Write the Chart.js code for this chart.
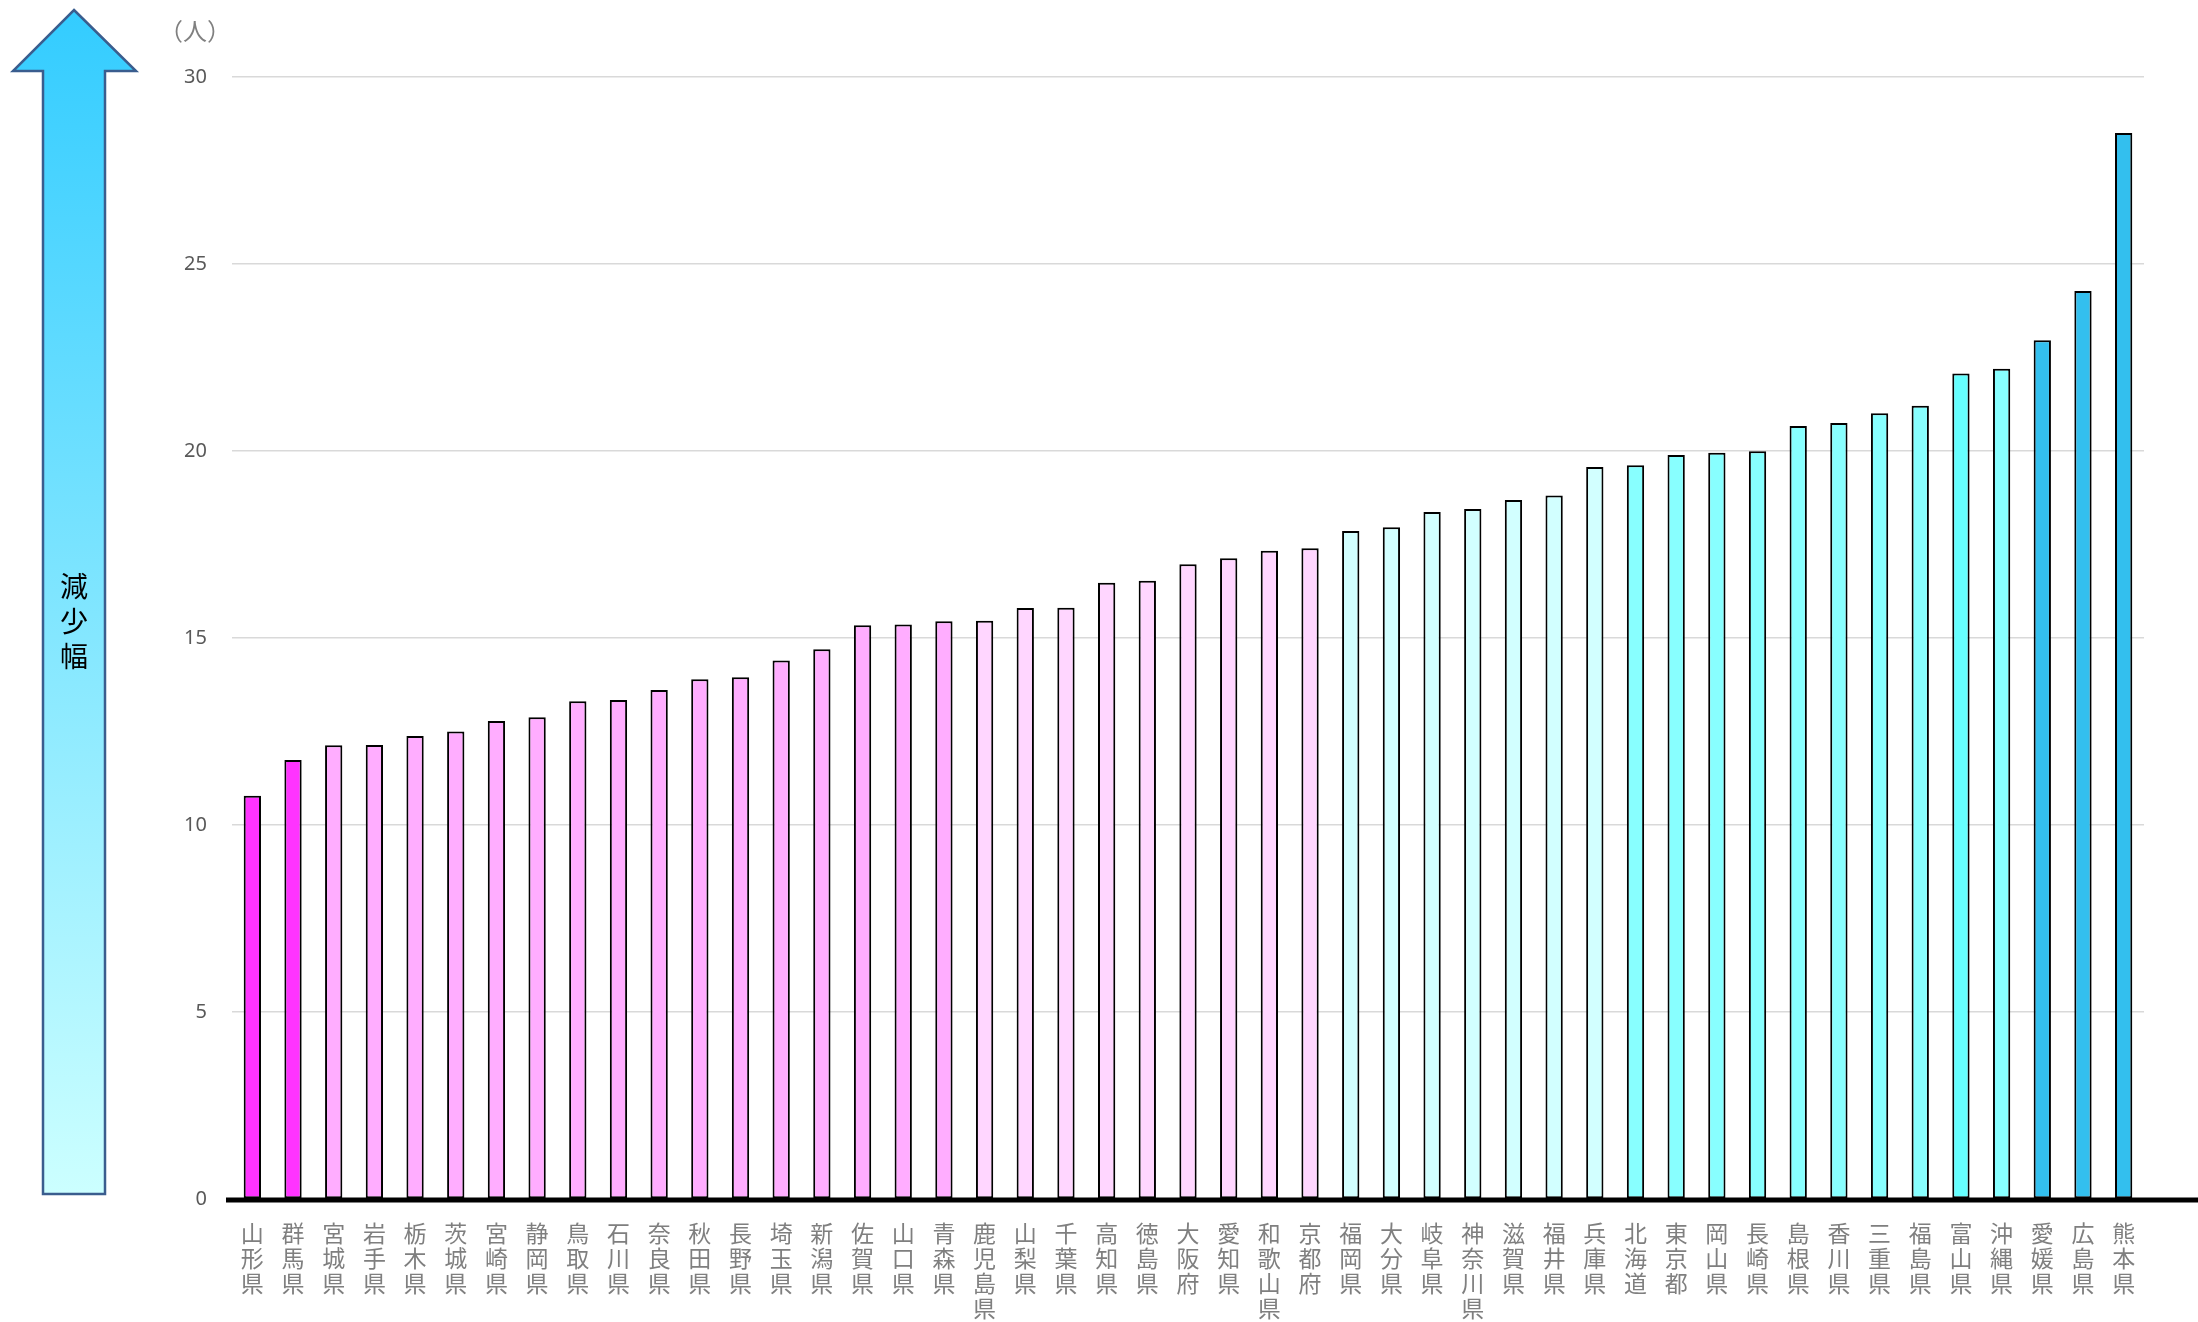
<!DOCTYPE html>
<html lang="ja">
<head>
<meta charset="utf-8">
<title>都道府県別 減少幅</title>
<script src="https://cdn.jsdelivr.net/npm/chart.js@4/dist/chart.umd.min.js"></script>
<style>
  html, body { margin: 0; padding: 0; background: #ffffff; }
  #wrap { width: 2198px; height: 1322px; position: relative; }
</style>
</head>
<body>
<div id="wrap"><canvas id="c"></canvas></div>
<script>
// Prefectures, ordered from smallest to largest decrease
const prefectures = [
  '山形県','群馬県','宮城県','岩手県','栃木県','茨城県','宮崎県','静岡県','鳥取県','石川県',
  '奈良県','秋田県','長野県','埼玉県','新潟県','佐賀県','山口県','青森県','鹿児島県','山梨県',
  '千葉県','高知県','徳島県','大阪府','愛知県','和歌山県','京都府','福岡県','大分県','岐阜県',
  '神奈川県','滋賀県','福井県','兵庫県','北海道','東京都','岡山県','長崎県','島根県','香川県',
  '三重県','福島県','富山県','沖縄県','愛媛県','広島県','熊本県'
];

// Decrease (persons)
const decrease = [
  10.78, 11.74, 12.13, 12.14, 12.38, 12.50, 12.78, 12.88, 13.31, 13.34,
  13.61, 13.90, 13.95, 14.40, 14.70, 15.34, 15.36, 15.45, 15.46, 15.80,
  15.81, 16.48, 16.53, 16.97, 17.13, 17.33, 17.40, 17.86, 17.96, 18.37,
  18.45, 18.69, 18.81, 19.57, 19.62, 19.89, 19.95, 19.99, 20.67, 20.75,
  21.01, 21.21, 22.07, 22.20, 22.96, 24.28, 28.50
];

// Y axis range and tick step
const yMin = 0;
const yMax = 30;
const yStep = 5;

// Bar fill colours by group
const MAGENTA = '#FF33FF', PINK = '#FFADFF', LIGHT_PINK = '#FFD6FF';
const LIGHT_CYAN = '#D2FFFF', CYAN = '#88FFFF', BRIGHT_CYAN = '#66FFFF', BLUE = '#33BFEE';
const barColors = [
  MAGENTA, MAGENTA,
  PINK, PINK, PINK, PINK, PINK, PINK, PINK, PINK, PINK, PINK, PINK, PINK, PINK, PINK, PINK, PINK,
  LIGHT_PINK, LIGHT_PINK, LIGHT_PINK, LIGHT_PINK, LIGHT_PINK, LIGHT_PINK, LIGHT_PINK, LIGHT_PINK, LIGHT_PINK,
  LIGHT_CYAN, LIGHT_CYAN, LIGHT_CYAN, LIGHT_CYAN, LIGHT_CYAN, LIGHT_CYAN, LIGHT_CYAN,
  CYAN, CYAN, CYAN, CYAN, CYAN, CYAN, CYAN, CYAN, BRIGHT_CYAN, CYAN,
  BLUE, BLUE, BLUE
];

const JP_FONT = '"Noto Sans CJK JP", "Noto Sans", sans-serif';
const NUM_FONT = '"Noto Sans", "Open Sans", sans-serif';

// Vertical category labels: one character per line
const verticalLabels = prefectures.map(p => Array.from(p));

// Decorations: the up arrow with its caption, the unit label and the heavy baseline
const decorations = {
  id: 'decorations',
  beforeDraw(chart) {
    const ctx = chart.ctx;
    ctx.save();
    // Up arrow
    const tipX = 74, tipY = 10, headY = 71, headL = 13, headR = 136;
    const shaftL = 43, shaftR = 105, bottom = 1194;
    const grad = ctx.createLinearGradient(0, tipY, 0, bottom);
    grad.addColorStop(0, '#33CCFF');
    grad.addColorStop(1, '#CCFFFF');
    ctx.beginPath();
    ctx.moveTo(tipX, tipY);
    ctx.lineTo(headR, headY);
    ctx.lineTo(shaftR, headY);
    ctx.lineTo(shaftR, bottom);
    ctx.lineTo(shaftL, bottom);
    ctx.lineTo(shaftL, headY);
    ctx.lineTo(headL, headY);
    ctx.closePath();
    ctx.fillStyle = grad;
    ctx.fill();
    ctx.lineWidth = 2.5;
    ctx.strokeStyle = '#3A5D8E';
    ctx.lineJoin = 'miter';
    ctx.stroke();

    // Caption inside the arrow, written top to bottom
    ctx.fillStyle = '#000000';
    ctx.font = '28px ' + JP_FONT;
    ctx.textAlign = 'center';
    ctx.textBaseline = 'middle';
    const caption = Array.from('減少幅');
    caption.forEach((ch, i) => ctx.fillText(ch, 74, 586 + i * 35));

    // Unit label
    ctx.fillStyle = '#808080';
    ctx.font = '24px ' + JP_FONT;
    ctx.fillText('（人）', 195, 31);
    ctx.restore();
  },
  afterDatasetsDraw(chart) {
    const ctx = chart.ctx;
    const y = chart.scales.y.getPixelForValue(0);
    ctx.save();
    ctx.beginPath();
    ctx.moveTo(chart.chartArea.left - 6, y + 1);
    ctx.lineTo(chart.width, y + 1);
    ctx.lineWidth = 5;
    ctx.strokeStyle = '#000000';
    ctx.stroke();
    ctx.restore();
  }
};

new Chart(document.getElementById('c'), {
  type: 'bar',
  data: {
    labels: verticalLabels,
    datasets: [{
      data: decrease,
      backgroundColor: barColors,
      borderColor: '#000000',
      borderWidth: 2,
      borderSkipped: false,
      barPercentage: 0.85,
      categoryPercentage: 0.5
    }]
  },
  options: {
    responsive: true,
    maintainAspectRatio: false,
    animation: false,
    devicePixelRatio: 1,
    layout: { padding: { top: 77, right: 54, left: 0, bottom: 0 } },
    plugins: {
      legend: { display: false },
      tooltip: { enabled: false }
    },
    scales: {
      x: {
        grid: { display: false },
        border: { display: false },
        ticks: {
          autoSkip: false,
          maxRotation: 0,
          minRotation: 0,
          padding: 14,
          color: '#7F7F7F',
          font: { family: JP_FONT, size: 23, lineHeight: '25px' }
        },
        afterFit(scale) { scale.height = 123; }
      },
      y: {
        min: yMin,
        max: yMax,
        border: { display: false },
        grid: { color: '#D9D9D9', lineWidth: 1.5, drawTicks: false },
        ticks: {
          stepSize: yStep,
          padding: 25,
          color: '#595959',
          font: { family: NUM_FONT, size: 20 }
        },
        afterFit(scale) { scale.width = 232; }
      }
    }
  },
  plugins: [decorations]
});
</script>
</body>
</html>
